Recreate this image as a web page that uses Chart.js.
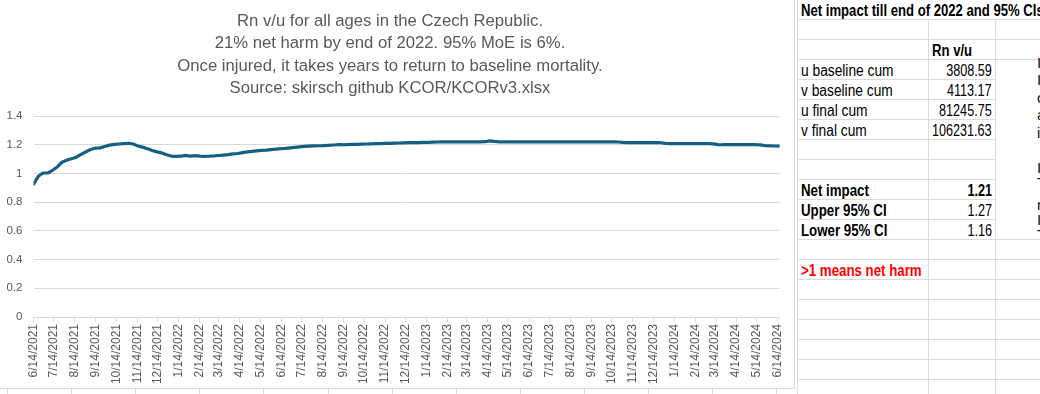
<!DOCTYPE html>
<html>
<head>
<meta charset="utf-8">
<script src="https://cdn.jsdelivr.net/npm/chart.js@4/dist/chart.umd.min.js"></script>
<style>
  html, body { margin: 0; padding: 0; background: #fff; }
  body { width: 1040px; height: 394px; overflow: hidden; position: relative; }
  #chartBox { position: absolute; left: 0; top: 0; width: 794px; height: 388px;
              border-right: 1px solid #d9d9d9; border-bottom: 1px solid #d9d9d9; background: #fff; z-index: 2; }
  #chartBox canvas { display: block; }
  .hl { position: absolute; height: 1px; background: #dadada; }
  .vl { position: absolute; width: 1px; background: #dadada; }
  .cell { position: absolute; height: 20px; line-height: 20px; white-space: nowrap;
          font-family: "Liberation Sans", Arial, sans-serif; font-size: 16px; color: #000; padding-top: 1px; }
  .cell span { display: inline-block; }
  .lbl { left: 801px; }
  .lbl span { transform: scaleX(0.86); transform-origin: 0 50%; }
  .lbl.b span { transform: scaleX(0.83); }
  .num { right: 48px; text-align: right; }
  .num span { transform: scaleX(0.79); transform-origin: 100% 50%; }
  .ttl span { transform: scaleX(0.82); transform-origin: 0 50%; }
  .b { font-weight: bold; }
  #tbox { position: absolute; left: 996px; top: 60px; width: 44px; height: 179px; background: #fff; z-index: 1; }
  .frag { position: absolute; left: 1037px; font-family: "Liberation Sans", sans-serif; font-size: 15px; color: #111; line-height: 16px; z-index: 2; }
</style>
</head>
<body>
<div id="tbox"></div>
<div id="chartBox"><canvas id="c" width="794" height="388"></canvas></div>
<script>
// ---------- data ----------
const chartTitle = [
  'Rn v/u for all ages in the Czech Republic.',
  '21% net harm by end of 2022. 95% MoE is 6%.',
  'Once injured, it takes years to return to baseline mortality.',
  'Source: skirsch github KCOR/KCORv3.xlsx'
];
const startDate = '6/14/2021';
const weekStepDays = 7;
const tickLabels = [
  '6/14/2021','7/14/2021','8/14/2021','9/14/2021','10/14/2021','11/14/2021','12/14/2021',
  '1/14/2022','2/14/2022','3/14/2022','4/14/2022','5/14/2022','6/14/2022','7/14/2022',
  '8/14/2022','9/14/2022','10/14/2022','11/14/2022','12/14/2022',
  '1/14/2023','2/14/2023','3/14/2023','4/14/2023','5/14/2023','6/14/2023','7/14/2023',
  '8/14/2023','9/14/2023','10/14/2023','11/14/2023','12/14/2023',
  '1/14/2024','2/14/2024','3/14/2024','4/14/2024','5/14/2024','6/14/2024'
];
const yTickValues = [0, 0.2, 0.4, 0.6, 0.8, 1, 1.2, 1.4];
const rnValues = [
  0.925, 0.980, 1.003, 1.003, 1.022, 1.045, 1.078, 1.093, 1.102, 1.113,
  1.132, 1.150, 1.167, 1.176, 1.178, 1.188, 1.197, 1.202, 1.205, 1.208,
  1.210, 1.205, 1.190, 1.183, 1.172, 1.160, 1.150, 1.143, 1.130, 1.121,
  1.119, 1.120, 1.126, 1.120, 1.124, 1.120, 1.119, 1.120, 1.122, 1.125,
  1.128, 1.131, 1.136, 1.139, 1.145, 1.150, 1.154, 1.157, 1.160, 1.162,
  1.166, 1.170, 1.172, 1.174, 1.178, 1.182, 1.185, 1.188, 1.190, 1.192,
  1.193, 1.194, 1.196, 1.198, 1.200, 1.200, 1.201, 1.202, 1.203, 1.204,
  1.205, 1.206, 1.207, 1.208, 1.209, 1.210, 1.211, 1.212, 1.213, 1.214,
  1.214, 1.215, 1.216, 1.217, 1.218, 1.219, 1.220, 1.220, 1.220, 1.220,
  1.220, 1.220, 1.220, 1.220, 1.220, 1.221, 1.227, 1.223, 1.220, 1.220,
  1.220, 1.220, 1.220, 1.220, 1.220, 1.220, 1.220, 1.220, 1.220, 1.220,
  1.220, 1.220, 1.220, 1.220, 1.220, 1.220, 1.220, 1.220, 1.220, 1.220,
  1.220, 1.220, 1.220, 1.219, 1.216, 1.215, 1.215, 1.215, 1.215, 1.215,
  1.215, 1.215, 1.214, 1.209, 1.208, 1.208, 1.208, 1.208, 1.208, 1.208,
  1.208, 1.208, 1.208, 1.206, 1.201, 1.200, 1.200, 1.200, 1.200, 1.200,
  1.200, 1.200, 1.200, 1.199, 1.193, 1.192, 1.191, 1.190
];
const tableTitle = 'Net impact till end of 2022 and 95% CIs';
const tableHeader = 'Rn v/u';
const tableRows = [
  ['u baseline cum', '3808.59'],
  ['v baseline cum', '4113.17'],
  ['u final cum', '81245.75'],
  ['v final cum', '106231.63']
];
const ciRows = [
  ['Net impact', '1.21'],
  ['Upper 95% CI', '1.27'],
  ['Lower 95% CI', '1.16']
];
const noteText = '>1 means net harm';

// ---------- helpers ----------
function parseMDY(s) { const [m, d, y] = s.split('/').map(Number); return Date.UTC(y, m - 1, d); }
const t0 = parseMDY(startDate);
const tickOffsets = tickLabels.map(s => (parseMDY(s) - t0) / 86400000);
const points = rnValues.map((v, i) => ({ x: i * weekStepDays, y: v }));
const xMax = (rnValues.length - 1) * weekStepDays;

// ---------- spreadsheet backdrop ----------
function add(cls, style, text) {
  const d = document.createElement('div');
  d.className = cls; Object.assign(d.style, style);
  if (text !== undefined) { const s = document.createElement('span'); s.textContent = text; d.appendChild(s); }
  document.body.appendChild(d); return d;
}
for (let k = 0; k < 19; k++) {
  add('hl', { left: '797px', top: (19 + 20 * k) + 'px', width: '243px' });
}
add('vl', { left: '797px', top: '0px', height: '394px' });
add('vl', { left: '928px', top: '19px', height: '375px' });
add('vl', { left: '995px', top: '19px', height: '375px' });
for (let k = 0; k < 13; k++) {
  add('vl', { left: (7 + 64.1 * k) + 'px', top: '389px', height: '5px' });
}
// table text
add('cell b ttl', { left: '801px', top: '0px' }, tableTitle);
add('cell b ttl', { left: '932px', top: '40px' }, tableHeader);
tableRows.forEach((r, i) => {
  const top = 60 + 20 * i;
  add('cell lbl', { top: top + 'px' }, r[0]);
  add('cell num', { top: top + 'px' }, r[1]);
});
ciRows.forEach((r, i) => {
  const top = 180 + 20 * i;
  add('cell lbl b', { top: top + 'px' }, r[0]);
  add('cell num' + (i === 0 ? ' b' : ''), { top: top + 'px' }, r[1]);
});
add('cell lbl b', { top: '260px', color: '#ff0000' }, noteText);
// clipped text box fragments at the far right
[['I', 55], ['I', 72], ['c', 90], ['a', 107], ['i', 125], ['I', 160], ['T', 175], ['n', 197], ['I', 212], ['T', 227]]
  .forEach(f => add('frag', { top: f[1] + 'px' }, f[0]));

// ---------- chart ----------
const grey = '#595959';
new Chart(document.getElementById('c'), {
  type: 'line',
  data: {
    datasets: [{
      label: 'Rn v/u',
      data: points,
      borderColor: '#156082',
      backgroundColor: '#156082',
      borderWidth: 3.2,
      pointRadius: 0,
      tension: 0,
      borderJoinStyle: 'round',
      borderCapStyle: 'round'
    }]
  },
  options: {
    responsive: false,
    animation: false,
    layout: { padding: { left: 0, right: 14, top: 0, bottom: 0 } },
    plugins: {
      legend: { display: false },
      tooltip: { enabled: false },
      title: {
        display: true,
        text: chartTitle,
        color: grey,
        font: { family: 'Liberation Sans', size: 16.7, weight: 'normal', lineHeight: 1.34 },
        padding: { top: 10, bottom: 16.5 }
      }
    },
    scales: {
      x: {
        type: 'linear',
        min: 0,
        max: xMax,
        afterBuildTicks: s => { s.ticks = tickOffsets.map(v => ({ value: v })); },
        afterFit: s => { s.height = 71; },
        ticks: {
          autoSkip: false,
          minRotation: 90,
          maxRotation: 90,
          padding: 2,
          color: grey,
          font: { family: 'Liberation Sans', size: 12 },
          callback: (v, i) => tickLabels[i]
        },
        grid: { drawOnChartArea: false, drawTicks: true, tickLength: 5, color: '#d9d9d9' },
        border: { color: '#d9d9d9', width: 1 }
      },
      y: {
        min: 0,
        max: 1.4,
        afterBuildTicks: s => { s.ticks = yTickValues.map(v => ({ value: v })); },
        afterFit: s => { s.width = 33.5; },
        ticks: {
          padding: 11,
          color: grey,
          font: { family: 'Liberation Sans', size: 11.5 },
          callback: v => String(+v.toFixed(1))
        },
        grid: { drawTicks: false, color: '#d9d9d9' },
        border: { display: false }
      }
    }
  }
});
</script>
</body>
</html>
